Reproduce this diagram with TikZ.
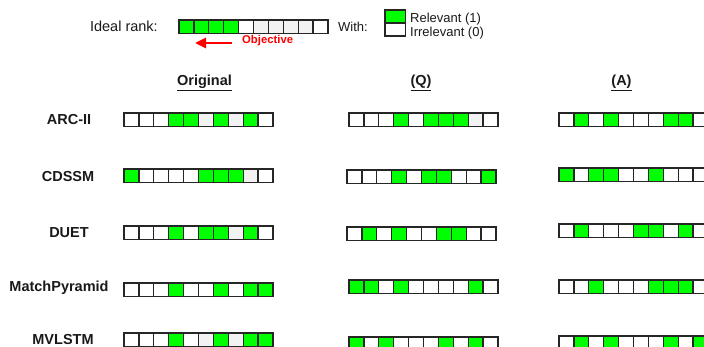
\documentclass[tikz,border=0pt]{standalone}
\usepackage{fontspec}
\setmainfont{Liberation Sans}
\usetikzlibrary{arrows.meta}
\definecolor{cell0}{HTML}{FFFFFF}
\definecolor{cell1}{HTML}{00FF00}
\definecolor{cell2}{HTML}{F2F2F2}
\definecolor{objred}{HTML}{FF0000}

\begin{document}
\begin{tikzpicture}[x=1pt, y=-1pt, >={Triangle[length=11pt, width=10pt]},
    cell/.style={draw=black!85, line width=1.3pt, minimum width=14.9pt, minimum height=13.4pt,
      inner sep=0pt, outer sep=0pt, anchor=north west},
    lbl/.style={font=\fontsize{14.5}{16}\selectfont\bfseries, text=black!90, anchor=base, inner sep=0pt},
    note/.style={font=\fontsize{13}{15}\selectfont, text=black!90, inner sep=0pt}]

  \clip (0,0) rectangle (704,347);

  % ideal ranking
  \node[note, font=\fontsize{14.5}{16}\selectfont, anchor=base east] (ideal-label) at (158,32) {Ideal rank:};
  \foreach \c [count=\i] in {1,1,1,1,0,2,2,2,2,0}
    \node[cell, fill=cell\c] (ideal-\i) at ({179+(\i-1)*14.9},20) {};

  \node[font=\fontsize{11.3}{13}\selectfont\bfseries, text=objred, anchor=base west, inner sep=0pt]
    (objective) at (242,44) {Objective};
  \coordinate (obj-tail) at (232,43);
  \coordinate (obj-tip) at (195,43);
  \draw[->, objred, line width=2.6pt] (obj-tail) -- (obj-tip);

  % legend
  \node[note, anchor=base west] (with) at (338,32) {With:};
  \node[cell, fill=cell1, minimum width=20.7pt, minimum height=13pt] (relbox) at (385,10) {};
  \node[cell, fill=cell0, minimum width=20.7pt, minimum height=13pt] (irrbox) at (relbox.south west) {};
  \node[note, anchor=base west] (reltext) at (410,23) {Relevant (1)};
  \node[note, anchor=base west] (irrtext) at (410,37) {Irrelevant (0)};

  % column heads
  \node[lbl] (orig-head) at (204.5,86) {\underline{Original}};
  \node[lbl] (q-head) at (421,86) {\underline{(Q)}};
  \node[lbl] (a-head) at (621.5,86) {\underline{(A)}};

  % models
  \foreach \name/\lx/\ly/\txt in {arc/69/125/ARC-II, cdssm/68/182/CDSSM, duet/69/238/DUET,
      mp/59/292/MatchPyramid, mv/63/344/MVLSTM}
    \node[lbl] (\name-label) at (\lx,\ly) {\txt};

  \foreach \strip/\sx/\sy/\pat in {
      arc-o/124/113/{0,0,0,1,1,2,1,2,1,0}, arc-q/349/113/{0,0,0,1,0,1,1,1,2,0},
      arc-a/559/113/{0,1,0,1,0,0,0,1,1,0},
      cdssm-o/124/169/{1,0,0,0,0,1,1,1,2,0}, cdssm-q/347/170/{0,0,0,1,0,1,1,0,0,1},
      cdssm-a/559/168/{1,0,1,1,0,0,1,0,0,0},
      duet-o/124/226/{0,0,0,1,0,1,1,2,1,0}, duet-q/347/227/{0,1,0,1,0,0,1,1,0,0},
      duet-a/559/224/{0,1,0,0,0,1,1,0,1,0},
      mp-o/124/283/{0,0,0,1,0,0,1,0,1,1}, mp-q/349/280/{1,1,0,1,0,0,0,0,1,0},
      mp-a/559/280/{0,0,1,0,0,0,1,1,1,0},
      mv-o/124/333/{0,0,0,1,0,2,1,2,1,1}, mv-q/349/337/{1,0,1,0,0,0,1,0,1,0},
      mv-a/559/336/{0,1,0,1,0,0,0,1,0,1}} {
    \foreach \c [count=\i] in \pat
      \node[cell, fill=cell\c] (\strip-\i) at ({\sx+(\i-1)*14.9},\sy) {};
  }

\end{tikzpicture}
\end{document}
